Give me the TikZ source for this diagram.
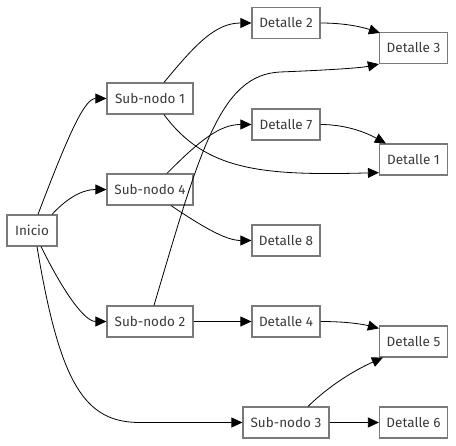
\documentclass[tikz,border=0pt]{standalone}
\usepackage{fontspec}
\setmainfont{Fira Sans}
\usetikzlibrary{arrows.meta}
\definecolor{boxline}{HTML}{7A7A7A}
\definecolor{txt}{HTML}{3A3A3A}
\tikzset{
  box/.style={draw=boxline, line width=1.2pt, fill=white, text=txt, minimum height=31pt, inner sep=0pt, font=\fontsize{13.5pt}{16pt}\selectfont},
  subbox/.style={box, minimum width=86pt},
  detbox/.style={box, minimum width=68pt},
  inibox/.style={box, minimum width=50pt},
  conn/.style={draw=black, line width=0.8pt, -{Triangle[length=11pt,width=10pt]}},
}
\begin{document}
\begin{tikzpicture}[x=1pt,y=-1pt]
\useasboundingbox (0,0) rectangle (456,446);
\node[inibox] (ini) at (32,230.5) {Inicio};
\node[subbox] (sn1) at (150,98.5) {Sub-nodo 1};
\node[subbox] (sn4) at (150,189.5) {Sub-nodo 4};
\node[subbox] (sn2) at (150,321.5) {Sub-nodo 2};
\node[subbox] (sn3) at (286,422.5) {Sub-nodo 3};
\node[detbox] (d2) at (286,23) {Detalle 2};
\node[detbox] (d3) at (413.5,48) {Detalle 3};
\node[detbox] (d7) at (286,124.5) {Detalle 7};
\node[detbox] (d1) at (413.5,159.5) {Detalle 1};
\node[detbox] (d8) at (286,240.5) {Detalle 8};
\node[detbox] (d4) at (286,321.5) {Detalle 4};
\node[detbox] (d5) at (413.5,341.5) {Detalle 5};
\node[detbox] (d6) at (413.5,422.5) {Detalle 6};
% from Inicio
\draw[conn] ([xshift=6pt]ini.north) .. controls (70,130) and (85,98.5) .. (sn1.west);
\draw[conn] ([xshift=20pt]ini.north) .. controls (70,195) and (85,189.5) .. (sn4.west);
\draw[conn] ([xshift=9pt]ini.south) .. controls (65,295) and (85,321.5) .. (sn2.west);
\draw[conn] ([xshift=5pt]ini.south) .. controls (60,385) and (85,422.5) .. (140,422.5) -- (sn3.west);
% from Sub-nodo 1
\draw[conn] ([xshift=14pt]sn1.north) .. controls (195,45) and (215,23) .. (d2.west);
\draw[conn] ([xshift=14pt]sn1.south) .. controls (205,170) and (260,176) .. ([yshift=3pt]d1.south west);
% from Sub-nodo 4
\draw[conn] ([xshift=17pt]sn4.north) .. controls (200,140) and (220,124.5) .. (d7.west);
\draw[conn] ([xshift=21pt]sn4.south) .. controls (200,225) and (225,240.5) .. (d8.west);
% from Sub-nodo 2
\draw[conn] ([xshift=4pt]sn2.north) .. controls (200,150) and (220,75) .. (280,72) .. controls (330,70) and (360,68) .. (d3.south west);
\draw[conn] (sn2.east) -- (d4.west);
% from Sub-nodo 3
\draw[conn] ([xshift=22pt]sn3.north) .. controls (330,385) and (355,370) .. ([xshift=4pt]d5.south west);
\draw[conn] (sn3.east) -- (d6.west);
% detail to detail
\draw[conn] (d2.east) .. controls (345,23) and (362,27) .. ([xshift=1pt,yshift=-1pt]d3.north west);
\draw[conn] (d7.east) .. controls (345,124.5) and (365,132) .. ([xshift=7pt]d1.north west);
\draw[conn] (d4.east) .. controls (345,321.5) and (362,324) .. ([yshift=-3pt]d5.north west);
\end{tikzpicture}
\end{document}
